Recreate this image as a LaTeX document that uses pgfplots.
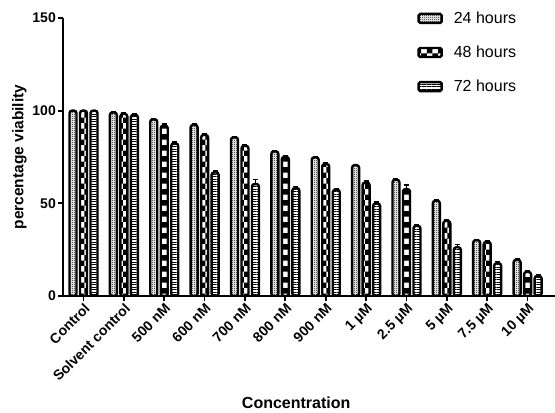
\documentclass[border=0pt]{standalone}
\usepackage{fontspec}
\setmainfont{Liberation Sans}
\usepackage{pgfplots}
\pgfplotsset{compat=1.18}
\usetikzlibrary{patterns,patterns.meta}

\pgfdeclarepatternformonly{finechecker}{\pgfqpoint{0pt}{0pt}}{\pgfqpoint{2pt}{2pt}}{\pgfqpoint{2pt}{2pt}}{%
  \pgfpathrectangle{\pgfqpoint{0pt}{0pt}}{\pgfqpoint{1pt}{1pt}}%
  \pgfpathrectangle{\pgfqpoint{1pt}{1pt}}{\pgfqpoint{1pt}{1pt}}%
  \pgfusepath{fill}}

\pgfplotstableread{
x   v24   e24   v48   e48   v72   e72
0   100   0     100   0     100   0
1   99    0.5   98.2  0.5   97.8  0.5
2   95.3  0.5   91.9  0.8   82.3  0.8
3   92.3  0.5   86.9  0.8   66.7  0.8
4   85.6  0.5   81.0  0.8   60.4  2.5
5   78.0  0.5   75.1  0.8   58.2  0.8
6   74.8  0.5   71.2  0.8   57.3  0.8
7   70.6  0.5   61.2  0.8   49.9  0.8
8   62.7  0.5   57.7  2.3   37.8  0.8
9   51.4  0.5   40.5  0.8   26.3  1.5
10  30.1  0.5   29.2  0.8   17.7  0.8
11  19.5  0.8   13.0  0.8   10.8  0.8
}\datatable

\pgfplotsset{
  mybar/.style={
    draw=black, line width=2.4pt, rounded corners=2.5pt,
    error bars/.cd, y dir=plus, y explicit,
    error bar style={line width=1.4pt, black},
    error mark options={rotate=90, mark size=2.5pt, line width=1.4pt, black},
    /pgfplots/.cd,
    legend image code/.code={%
      \draw[##1, line width=2.4pt, rounded corners=1.5pt] (0pt,-4.5pt) rectangle (23pt,4.5pt);}
  }
}

\begin{document}
\begin{tikzpicture}
\begin{axis}[
  name=ax,
  scale only axis, width=492pt, height=278pt,
  xmin=-0.508, xmax=11.68, ymin=0, ymax=150,
  axis x line*=bottom, axis y line*=left,
  axis line style={-, line width=1.7pt, black},
  ytick={0,50,100,150},
  xtick={0,...,11},
  xticklabels={Control, Solvent control, 500 nM, 600 nM, 700 nM, 800 nM, 900 nM, 1 µM, 2.5 µM, 5 µM, 7.5 µM, 10 µM},
  tick align=outside, major tick length=5pt,
  tick style={line width=1.7pt, black},
  xticklabel style={rotate=45, anchor=north east, font=\fontsize{14}{16}\selectfont\bfseries, inner sep=1pt},
  yticklabel style={font=\fontsize{14}{16}\selectfont\bfseries, inner sep=2pt},
  /pgf/number format/assume math mode=true,
  ybar=3.5pt, bar width=7pt,
  ylabel={percentage viability},
  ylabel style={at={(axis description cs:-0.0884,0.5)}, anchor=center, font=\fontsize{15.5}{18}\selectfont\bfseries},
  xlabel={Concentration},
  xlabel style={at={(axis description cs:0.474,0)}, anchor=base, yshift=-112.5pt, font=\fontsize{16}{19}\selectfont\bfseries},
  legend style={at={(rel axis cs:0.72,1.03)}, anchor=north west, draw=none, fill=none,
    font=\fontsize{16}{19}\selectfont, row sep=17pt, inner sep=0pt,
    nodes={inner sep=2pt}, column sep=0pt,
    /tikz/every odd column/.style={column sep=9pt}},
  legend cell align=left,
]
\addplot[mybar, pattern=finechecker] table[x=x, y=v24, y error=e24] {\datatable};
\addplot[mybar, pattern=checkerboard] table[x=x, y=v48, y error=e48] {\datatable};
\addplot[mybar, pattern={Lines[angle=0, distance=2.5pt, line width=1pt]}] table[x=x, y=v72, y error=e72] {\datatable};
\legend{24 hours, 48 hours, 72 hours}
\end{axis}
\pgfresetboundingbox
\useasboundingbox ([xshift=-63pt, yshift=-116pt]ax.south west) rectangle ([yshift=18pt]ax.north east);
\end{tikzpicture}
\end{document}
